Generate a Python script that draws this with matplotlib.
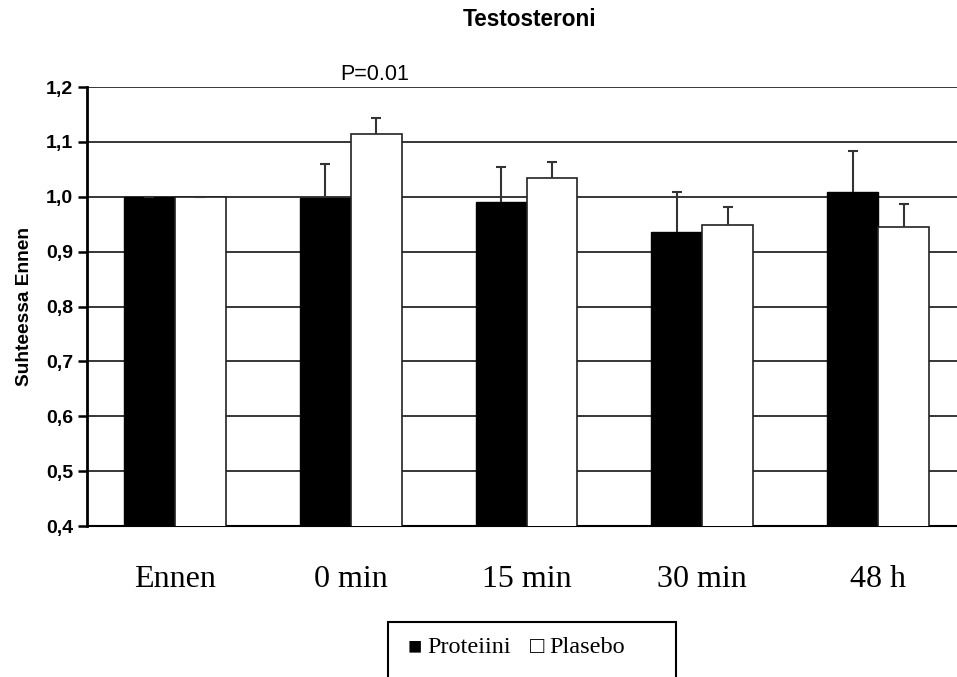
import matplotlib
matplotlib.use("Agg")
import matplotlib.pyplot as plt
from matplotlib.patches import Rectangle
import numpy as np

categories = ["Ennen", "0 min", "15 min", "30 min", "48 h"]
proteiini = [1.000, 0.998, 0.991, 0.936, 1.009]
proteiini_err = [0.0, 0.061, 0.064, 0.072, 0.074]
plasebo = [1.000, 1.114, 1.034, 0.949, 0.944]
plasebo_err = [0.0, 0.029, 0.029, 0.033, 0.043]
yticks = [0.4, 0.5, 0.6, 0.7, 0.8, 0.9, 1.0, 1.1, 1.2]
ytick_labels = ["0,4", "0,5", "0,6", "0,7", "0,8", "0,9", "1,0", "1,1", "1,2"]

sans = ["Liberation Sans", "DejaVu Sans"]
serif = ["Liberation Serif", "DejaVu Serif"]

fig = plt.figure(figsize=(9.57, 6.77), dpi=100)
ax = fig.add_axes([87/957, 1-526/677, (966-87)/957, (526-87)/677])

x = np.arange(len(categories))
w = 0.29
ax.bar(x - w/2, proteiini, width=w, bottom=0, color="black", edgecolor="black",
       linewidth=1, zorder=3)
ax.bar(x + w/2, plasebo, width=w, bottom=0, color="white", edgecolor="#222222",
       linewidth=1.2, zorder=3)
for xs, ys, es in [(x - w/2, proteiini, proteiini_err), (x + w/2, plasebo, plasebo_err)]:
    eb = ax.errorbar(xs, ys, yerr=[[0]*len(ys), es], fmt="none",
                     ecolor="#333333", elinewidth=1.5, capsize=3.6, capthick=1.5, zorder=4)
    caps = eb[1]
    for c in caps:
        yd = np.asarray(c.get_ydata())
        if np.allclose(yd, np.asarray(ys)):
            c.set_visible(False)

ax.set_xlim(-0.5, len(categories) - 0.5)
ax.set_ylim(0.4, 1.2)
ax.set_yticks(yticks)
ax.set_yticklabels(ytick_labels, fontfamily=sans, fontweight="bold", fontsize=14)
ax.set_xticks(x)
ax.set_xticklabels(categories, fontfamily=serif, fontsize=23)
ax.tick_params(axis="x", length=0, pad=28)
ax.tick_params(axis="y", length=6.5, width=1.8, direction="out", pad=3.5)
ax.yaxis.grid(True, color="black", linewidth=1.1, zorder=0)
ax.set_axisbelow(True)
for s in ["top", "right"]:
    ax.spines[s].set_visible(False)
ax.spines["left"].set_linewidth(2)
ax.spines["bottom"].set_linewidth(1.5)

ax.set_ylabel("Suhteessa Ennen", fontfamily=sans, fontweight="bold", fontsize=13.8)
ax.yaxis.set_label_coords(-0.061, 0.5)

ax.text(1 + w/2 - 0.01, 1.222, "P=0.01", fontfamily=sans, fontsize=15.5,
        ha="center", va="center", clip_on=False)

fig.text(530/957, 1-20/677, "Testosteroni", fontfamily=sans, fontweight="bold",
         fontsize=16.3, ha="center", va="center")

# legend box
rect = Rectangle((388/957, -0.05), (676-388)/957, 0.05 + (1-622/677),
                 transform=fig.transFigure, facecolor="white", edgecolor="black",
                 linewidth=1.5, clip_on=False)
fig.patches.append(rect)
base = 1 - 653/677
fig.text(408/957, base, "\u25A0", fontfamily=serif, fontsize=17, ha="left", va="baseline")
fig.text(427/957, base, "Proteiini", fontfamily=serif, fontsize=17.5, ha="left", va="baseline")
fig.text(530/957, base, "\u25A1", fontfamily=serif, fontsize=17, ha="left", va="baseline")
fig.text(549/957, base, "Plasebo", fontfamily=serif, fontsize=17.5, ha="left", va="baseline")

fig.savefig("out.png", dpi=100)
